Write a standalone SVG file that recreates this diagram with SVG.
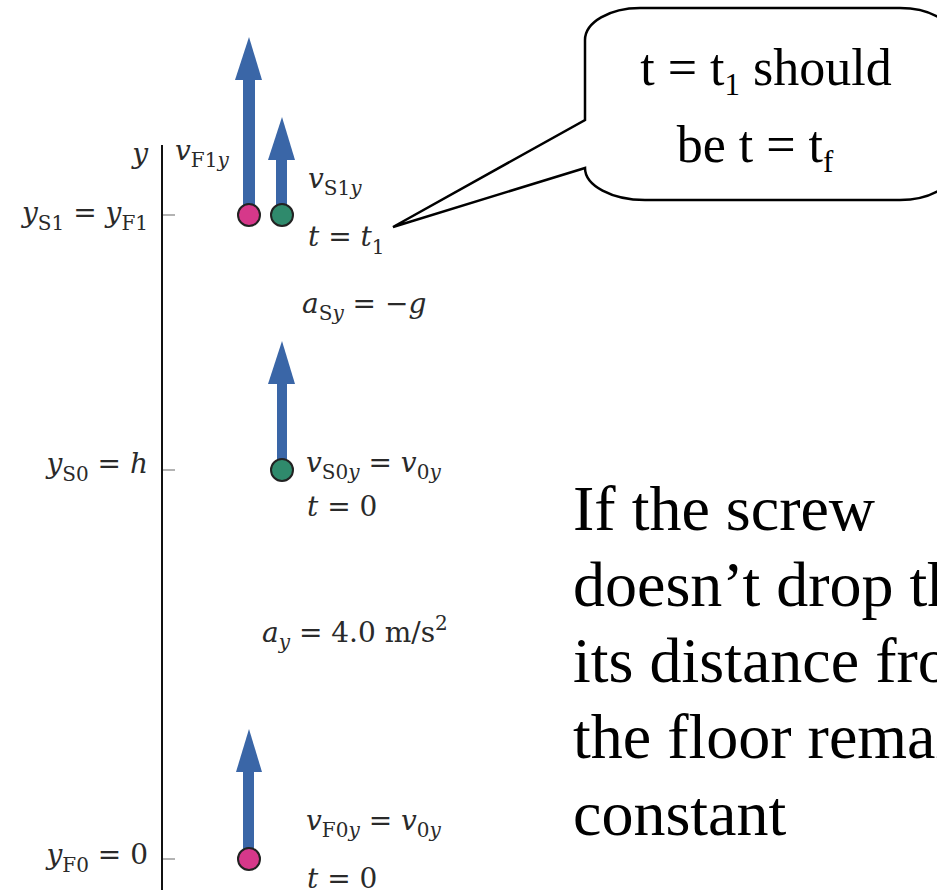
<svg xmlns="http://www.w3.org/2000/svg" width="937" height="890" viewBox="0 0 937 890">
<style>
.lab{font-family:"DejaVu Serif","Liberation Serif",serif;font-size:28px;fill:#2a2a2a}
.i{font-style:italic}
.sub{font-size:20px}
.arrow{fill:#3a66a7}
.pink{fill:#d6388a;stroke:#222;stroke-width:2}
.green{fill:#2f8a6c;stroke:#222;stroke-width:2}
.tick{stroke:#9a9a9a;stroke-width:1.5}
.big{font-family:"Liberation Serif",serif;font-size:64px;fill:#000}
.call{font-family:"Liberation Serif",serif;font-size:52px;fill:#000}
</style>
<rect width="937" height="890" fill="#fff"/>

<g id="axis">
  <line x1="162" y1="145" x2="162" y2="890" stroke="#111" stroke-width="2"/>
  <line class="tick" x1="163" y1="215" x2="175" y2="215"/>
  <line class="tick" x1="163" y1="470" x2="175" y2="470"/>
  <line class="tick" x1="163" y1="859" x2="175" y2="859"/>
  <text class="lab i" x="148" y="163" text-anchor="end">y</text>
</g>

<g id="labels-left">
  <text class="lab" x="148" y="222" text-anchor="end"><tspan class="i">y</tspan><tspan class="sub" dy="8">S1</tspan><tspan dy="-8"> = </tspan><tspan class="i">y</tspan><tspan class="sub" dy="8">F1</tspan></text>
  <text class="lab" x="148" y="473" text-anchor="end"><tspan class="i">y</tspan><tspan class="sub" dy="8">S0</tspan><tspan dy="-8"> = </tspan><tspan class="i">h</tspan></text>
  <text class="lab" x="148" y="864" text-anchor="end"><tspan class="i">y</tspan><tspan class="sub" dy="8">F0</tspan><tspan dy="-8"> = 0</tspan></text>
</g>

<g id="top-pink">
  <rect class="arrow" x="243" y="78" width="12" height="130"/>
  <polygon class="arrow" points="249,37 262,80 235,80"/>
  <circle class="pink" cx="249" cy="215" r="11"/>
  <text class="lab" x="175" y="160"><tspan class="i">v</tspan><tspan class="sub" dy="7">F1</tspan><tspan class="sub i">y</tspan></text>
</g>

<g id="top-green">
  <rect class="arrow" x="276" y="158" width="11" height="50"/>
  <polygon class="arrow" points="282,117 295,160 268,160"/>
  <circle class="green" cx="282" cy="215" r="11"/>
  <text class="lab" x="308" y="188"><tspan class="i">v</tspan><tspan class="sub" dy="7">S1</tspan><tspan class="sub i">y</tspan></text>
  <text class="lab" x="308" y="246"><tspan class="i">t</tspan> = <tspan class="i">t</tspan><tspan class="sub" dy="8">1</tspan></text>
</g>

<text class="lab" x="302" y="313"><tspan class="i">a</tspan><tspan class="sub" dy="7">S</tspan><tspan class="sub i">y</tspan><tspan dy="-7"> = −</tspan><tspan class="i">g</tspan></text>

<g id="mid-green">
  <rect class="arrow" x="277" y="382" width="10" height="82"/>
  <polygon class="arrow" points="282,341 295,384 268,384"/>
  <circle class="green" cx="282" cy="470" r="11"/>
  <text class="lab" x="306" y="472"><tspan class="i">v</tspan><tspan class="sub" dy="7">S0</tspan><tspan class="sub i">y</tspan><tspan dy="-7"> = </tspan><tspan class="i">v</tspan><tspan class="sub" dy="7">0</tspan><tspan class="sub i">y</tspan></text>
  <text class="lab" x="307" y="516"><tspan class="i">t</tspan> = 0</text>
</g>

<text class="lab" x="262" y="642"><tspan class="i">a</tspan><tspan class="sub i" dy="7">y</tspan><tspan dy="-7"> = 4.0 m/s</tspan><tspan class="sub" dy="-12">2</tspan></text>

<g id="bottom-pink">
  <rect class="arrow" x="243" y="770" width="11" height="82"/>
  <polygon class="arrow" points="249,729 262,772 236,772"/>
  <circle class="pink" cx="249" cy="859" r="11"/>
  <text class="lab" x="306" y="830"><tspan class="i">v</tspan><tspan class="sub" dy="7">F0</tspan><tspan class="sub i">y</tspan><tspan dy="-7"> = </tspan><tspan class="i">v</tspan><tspan class="sub" dy="7">0</tspan><tspan class="sub i">y</tspan></text>
  <text class="lab" x="307" y="888"><tspan class="i">t</tspan> = 0</text>
</g>

<g id="callout">
  <path d="M 640,8 H 900 A 55,32 0 0 1 955,40 V 168 A 55,32 0 0 1 900,200 H 645 A 60,32 0 0 1 585,168 L 393,227 L 585,120 V 40 A 55,32 0 0 1 640,8 Z" fill="#fff" stroke="#000" stroke-width="2.5" stroke-linejoin="miter"/>
  <text class="call" x="766" y="85" text-anchor="middle">t = t<tspan font-size="31" dy="10">1</tspan><tspan dy="-10"> should</tspan></text>
  <text class="call" x="755" y="162" text-anchor="middle">be t = t<tspan font-size="31" dy="10">f</tspan></text>
</g>

<g id="note">
  <text class="big" x="573" y="530">If the screw</text>
  <text class="big" x="573" y="606">doesn’t drop th</text>
  <text class="big" x="573" y="682">its distance fro</text>
  <text class="big" x="573" y="758">the floor remai</text>
  <text class="big" x="573" y="835">constant</text>
</g>
</svg>
